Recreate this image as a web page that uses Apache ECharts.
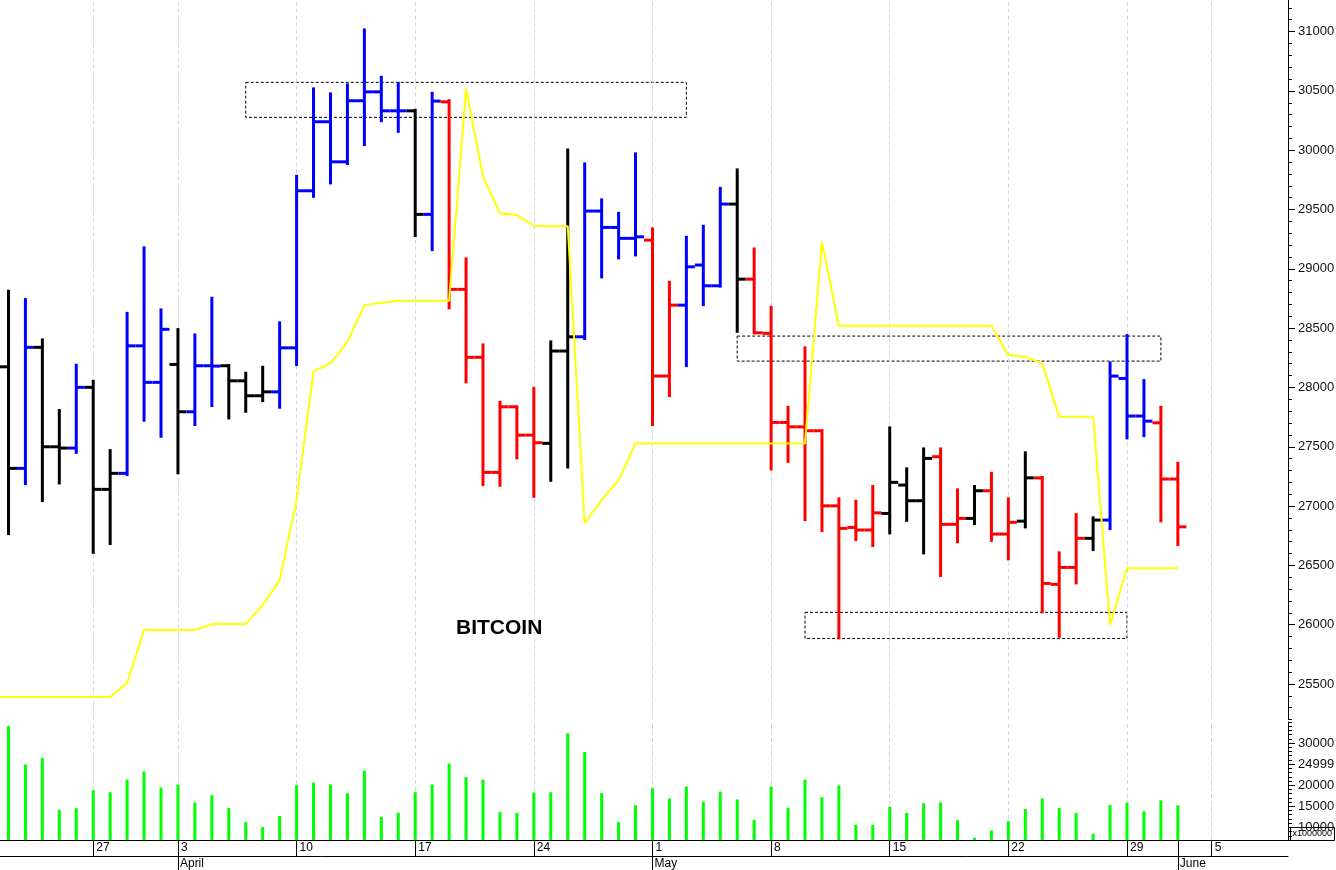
<!DOCTYPE html>
<html>
<head>
<meta charset="utf-8">
<script src="https://cdn.jsdelivr.net/npm/echarts@6/dist/echarts.min.js"></script>
<style>
html,body{margin:0;padding:0;background:#fff;}
#chart{width:1336px;height:870px;}
</style>
</head>
<body>
<div id="chart"></div>
<script>
// ---- data (one entry per trading slot, left to right) ----
const openP  = [28174,27318,28338,27500,27489,28001,27141,27276,28351,28043,28194,27795,28183,28183,28056,27930,27963,28334,29658,30240,29902,30417,30492,30332,30332,29459,30408,28827,28254,27284,27837,27598,27529,28307,28427,29487,29349,29257,29242,28096,28694,29032,28857,29546,28913,28456,27705,27668,27635,27002,26820,26798,26938,27177,27045,27416,26846,26896,27129,26764,26873,27238,26340,26483,26728,26882,28076,27759,27702,27228];
const highP  = [28815,28745,28405,27809,28191,28056,27472,28629,29181,28658,28492,28447,28756,28189,28124,28174,28549,29784,30521,30479,30555,31018,30619,30568,30340,30484,30422,29088,28363,27879,27840,27997,28388,30007,29889,29585,29472,29973,29341,28891,29270,29363,29683,29838,29172,28680,27837,28338,27640,27065,27045,27169,27663,27318,27486,27486,27141,27169,27281,27065,27453,27245,26610,26932,26905,28211,28441,28062,27837,27365];
const lowP   = [26764,27185,27042,27191,27449,26606,26680,27261,27719,27584,27276,27683,27843,27739,27795,27885,27829,28189,29607,29720,29883,30043,30245,30155,29276,29158,28667,28043,27177,27171,27402,27078,27213,27326,28408,28928,29088,29113,27683,27927,28180,28694,28850,28469,28456,27309,27373,26882,26789,25885,26713,26663,26770,26876,26601,26410,26696,26848,26707,26551,26820,26104,25898,26348,26629,26806,27571,27590,26871,26671];
const closeP = [27318,28338,27500,27489,28001,27141,27276,28351,28043,28490,27795,28183,28180,28056,27930,27963,28334,29658,30240,29902,30417,30492,30332,30332,29459,30414,28827,28254,27284,27837,27598,27534,28307,28427,29487,29349,29257,29270,28096,28694,29017,28857,29546,28913,28461,27705,27668,27635,27002,26812,26798,26943,27200,27045,27402,26846,26896,27129,26764,26863,27238,26348,26483,26728,26882,28096,27759,27716,27228,26825];
// trend state of each bar: u = up, d = down, n = neutral
const trend = ['n','u','n','n','u','n','n','u','u','u','n','u','u','n','n','n','u','u','u','u','u','u','u','u','n','u','d','d','d','d','d','d','n','n','u','u','u','u','d','d','u','u','u','n','d','d','d','d','d','d','d','d','n','n','n','d','d','n','d','d','n','d','d','d','n','u','u','u','d','d'];
// volume, in millions
const volume = [34055,24914,26484,14131,14530,18819,18350,21327,23273,19452,20155,15936,17647,14600,11248,10076,12725,19991,20624,20155,18116,23437,12490,13428,18350,20155,25148,21937,21327,13592,13428,18280,18350,32344,27890,18116,11248,15233,19288,16874,19686,16077,18514,16639,11787,19686,14670,21327,17178,19921,10615,10615,14905,13428,15702,15936,11717,7568,9279,11482,14366,16874,14600,13428,8506,15303,15842,13826,16405,15233];
// yellow indicator line
const signal = [25390,25390,25390,25390,25390,25390,25390,25508,25955,25955,25955,25955,26005,26005,26005,26165,26376,27050,28138,28203,28385,28694,28714,28731,28731,28731,28731,30521,29776,29467,29453,29363,29360,29360,26857,27050,27219,27528,27528,27528,27528,27528,27528,27528,27528,27528,27528,27528,29228,28520,28520,28520,28520,28520,28520,28520,28520,28520,28520,28273,28258,28203,27753,27753,27753,25997,26475,26475,26475,26475];
// dashed annotation boxes: [slot from, price top, slot to, price bottom]
const boxes = [[14,30572,40,30277],[43,28433,68,28222],[47,26104,66,25884]];
// time axis
const dayTicks = [5,10,17,24,31,38,45,52,59,66,71];
const dayLabels = ['27','3','10','17','24','1','8','15','22','29','5'];
const monthTicks = [10,38,69];
const monthLabels = ['April','May','June'];
// value axes
const priceTicks = [25500,26000,26500,27000,27500,28000,28500,29000,29500,30000,30500,31000];
const volTicks = [10000,15000,20000,25000,30000];
const volTickLabels = ['10000','15000','20000','24999','30000'];
const chartTitle = 'BITCOIN';
const volUnit = 'x1000000';

// ---- chart ----
const FONT = "'Liberation Sans', Arial, sans-serif";
const trendColor = {u:'#0000ff', d:'#ff0000', n:'#000000'};
const NSLOTS_MAX = 75.5;

const ohlc = openP.map((o,i)=>[i,o,highP[i],lowP[i],closeP[i]]);
const volData = volume.map((v,i)=>[i,v]);
const sigData = [[-0.5, signal[0]]].concat(signal.map((v,i)=>[i,v]));
const allTicks = dayTicks.concat(monthTicks).filter((v,i,a)=>a.indexOf(v)===i).sort((a,b)=>a-b);

const gridLineStyle = {color:'#d4d4ec', width:1, type:[4,3]};
const vLines = dayTicks.map(x=>({xAxis:x}));

const chart = echarts.init(document.getElementById('chart'), null, {renderer:'canvas'});
chart.setOption({
  animation:false,
  backgroundColor:'#ffffff',
  title:{text:chartTitle, left:456, top:618, padding:0, textStyle:{fontFamily:FONT, fontSize:21, fontWeight:'bold', color:'#000'}},
  grid:[
    {left:0, top:-4, width:1288, height:723.6, outerBoundsMode:'none'},
    {left:0, top:722, width:1288, height:118, outerBoundsMode:'none'}
  ],
  xAxis:[
    {gridIndex:0, type:'value', min:-0.5, max:NSLOTS_MAX, show:false, axisLine:{onZero:false}, splitLine:{show:false}},
    {gridIndex:1, type:'value', min:-0.5, max:NSLOTS_MAX, position:'bottom',
      axisLine:{show:true, onZero:false, lineStyle:{color:'#000', width:1}},
      axisTick:{show:true, customValues:allTicks, length:16, lineStyle:{color:'#000', width:1}},
      axisLabel:{customValues:dayTicks, formatter:v=>dayLabels[dayTicks.indexOf(v)] || '', align:'left', padding:[0,0,0,3], margin:2, fontFamily:FONT, fontSize:12, color:'#000'},
      splitLine:{show:false}},
    {gridIndex:1, type:'value', min:-0.5, max:NSLOTS_MAX, position:'bottom', offset:16,
      axisLine:{show:true, onZero:false, lineStyle:{color:'#000', width:1}},
      axisTick:{show:true, customValues:monthTicks, length:16, lineStyle:{color:'#000', width:1}},
      axisLabel:{customValues:monthTicks, formatter:v=>monthLabels[monthTicks.indexOf(v)] || '', align:'left', padding:[0,0,0,2], margin:2, fontFamily:FONT, fontSize:12, color:'#000'},
      splitLine:{show:false}}
  ],
  yAxis:[
    {gridIndex:0, type:'value', position:'right', min:25200, max:31300, interval:100,
      axisLine:{show:true, onZero:false, lineStyle:{color:'#000', width:1}},
      axisTick:{show:true, length:4, lineStyle:{color:'#000'}},
      axisLabel:{show:false}, splitLine:{show:false}},
    {gridIndex:0, type:'value', position:'right', min:25200, max:31300,
      axisLine:{show:false, onZero:false},
      axisTick:{show:true, customValues:priceTicks, length:7, lineStyle:{color:'#000'}},
      axisLabel:{customValues:priceTicks, formatter:v=>String(v), margin:10, fontFamily:FONT, fontSize:13, color:'#111'},
      splitLine:{show:false}},
    {gridIndex:1, type:'value', position:'right', min:7000, max:35000, interval:1000,
      axisLine:{show:true, onZero:false, lineStyle:{color:'#000', width:1}},
      axisTick:{show:true, length:4, lineStyle:{color:'#000'}},
      axisLabel:{show:false}, splitLine:{show:false}},
    {gridIndex:1, type:'value', position:'right', min:7000, max:35000,
      axisLine:{show:false, onZero:false},
      axisTick:{show:true, customValues:volTicks, length:7, lineStyle:{color:'#000'}},
      axisLabel:{customValues:volTicks, formatter:v=>volTickLabels[volTicks.indexOf(v)] || '', margin:10, fontFamily:FONT, fontSize:13, color:'#111'},
      splitLine:{show:false}}
  ],
  graphic:[
    {type:'group', left:1290, top:827, z:100, children:[
      {type:'rect', shape:{x:0, y:0, width:44, height:13}, style:{fill:'#fff', stroke:'#000', lineWidth:1}},
      {type:'text', x:2, y:2, style:{text:volUnit, font:"9px 'Liberation Sans', Arial, sans-serif", fill:'#000'}}
    ]}
  ],
  series:[
    {
      name:'price', type:'custom', xAxisIndex:0, yAxisIndex:0, z:2,
      data:ohlc,
      encode:{x:0, y:[1,2,3,4]},
      renderItem:function(params, api){
        const x = api.value(0);
        const pO = api.coord([x, api.value(1)]);
        const pH = api.coord([x, api.value(2)]);
        const pL = api.coord([x, api.value(3)]);
        const pC = api.coord([x, api.value(4)]);
        const half = api.size([1,0])[0] / 2;
        const col = trendColor[trend[params.dataIndex]];
        const st = {stroke:col, lineWidth:3};
        return {type:'group', children:[
          {type:'line', shape:{x1:pH[0], y1:pH[1]-1, x2:pL[0], y2:pL[1]+1}, style:st},
          {type:'line', shape:{x1:pO[0]-half, y1:pO[1], x2:pO[0], y2:pO[1]}, style:st},
          {type:'line', shape:{x1:pC[0], y1:pC[1], x2:pC[0]+half, y2:pC[1]}, style:st}
        ]};
      },
      markLine:{silent:true, z:1, symbol:['none','none'], label:{show:false}, lineStyle:gridLineStyle, data:vLines}
    },
    {
      name:'signal', type:'line', xAxisIndex:0, yAxisIndex:0, z:3,
      data:sigData, symbol:'none', lineStyle:{color:'#ffff00', width:2}, itemStyle:{color:'#ffff00'},
      markArea:{silent:true,
        itemStyle:{color:'rgba(0,0,0,0)', borderColor:'#000', borderWidth:1, borderType:[3,2]},
        data:boxes.map(b=>[{coord:[b[0], b[1]]},{coord:[b[2], b[3]]}])}
    },
    {
      name:'volume', type:'bar', xAxisIndex:1, yAxisIndex:2, z:2,
      data:volData, barWidth:3, itemStyle:{color:'#00ff00'},
      markLine:{silent:true, z:1, symbol:['none','none'], label:{show:false}, lineStyle:gridLineStyle, data:vLines}
    }
  ]
});
</script>
</body>
</html>
